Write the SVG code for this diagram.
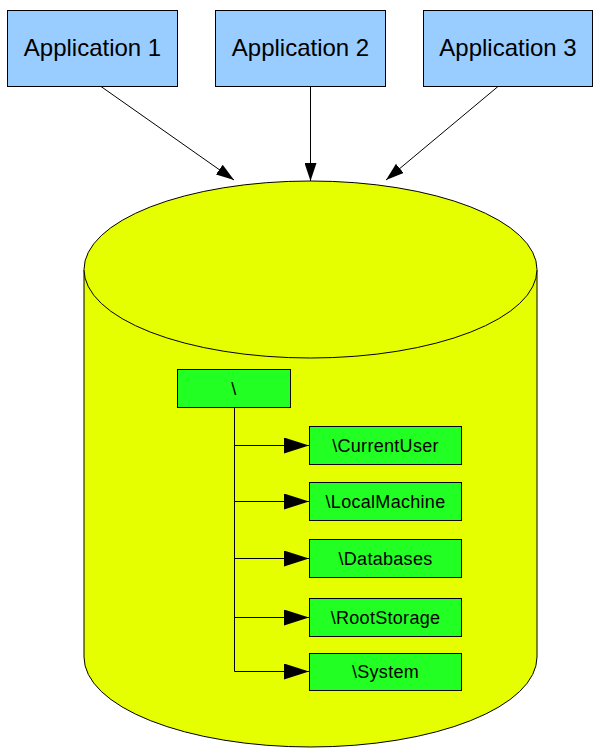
<svg xmlns="http://www.w3.org/2000/svg" width="606" height="755" viewBox="0 0 606 755">
<style>
.app{fill:#99ccff;stroke:#000;stroke-width:1}
.apptxt{font-family:"Liberation Sans",Arial,sans-serif;font-size:24px;fill:#000;text-anchor:middle}
.key{fill:#22ff22;stroke:#000;stroke-width:1}
.keytxt{font-family:"Liberation Sans",Arial,sans-serif;font-size:18px;letter-spacing:0.3px;fill:#000;text-anchor:middle}
.cyl{fill:#e6ff00;stroke:#000;stroke-width:1}
.ln{stroke:#000;stroke-width:1;fill:none}
</style>
<defs>
<marker id="ah" viewBox="0 0 18 12" refX="18" refY="6" markerWidth="18" markerHeight="12" markerUnits="userSpaceOnUse" orient="auto">
<path d="M0,0 L18,6 L0,12 Z" fill="#000"/>
</marker>
<marker id="ah2" viewBox="0 0 25 16" refX="25" refY="8" markerWidth="25" markerHeight="16" markerUnits="userSpaceOnUse" orient="auto">
<path d="M0,0 L25,8 L0,16 Z" fill="#000"/>
</marker>
</defs>
<rect width="606" height="755" fill="#fff"/>
<g id="store">
<path class="cyl" d="M84,270 L84,657 A226.5,90 0 0 0 537,657 L537,270"/>
<ellipse class="cyl" cx="310.5" cy="269.5" rx="226.5" ry="88.5"/>
</g>
<g id="app1"><rect class="app" x="7.5" y="10.5" width="170" height="76"/><text class="apptxt" x="92.5" y="56">Application 1</text></g>
<g id="app2"><rect class="app" x="215.5" y="10.5" width="170" height="76"/><text class="apptxt" x="300.5" y="56">Application 2</text></g>
<g id="app3"><rect class="app" x="423.5" y="10.5" width="169" height="76"/><text class="apptxt" x="508" y="56">Application 3</text></g>
<g id="connectors">
<line class="ln" x1="101" y1="86.5" x2="234" y2="180" marker-end="url(#ah)"/>
<line class="ln" x1="310.5" y1="86.5" x2="310.5" y2="181" marker-end="url(#ah)"/>
<line class="ln" x1="498" y1="86.5" x2="386" y2="180" marker-end="url(#ah)"/>
<path class="ln" d="M234.5,407.5 L234.5,671.5"/>
<line class="ln" x1="234.5" y1="445.5" x2="309" y2="445.5" marker-end="url(#ah2)"/>
<line class="ln" x1="234.5" y1="501.5" x2="309" y2="501.5" marker-end="url(#ah2)"/>
<line class="ln" x1="234.5" y1="558.5" x2="309" y2="558.5" marker-end="url(#ah2)"/>
<line class="ln" x1="234.5" y1="617.5" x2="309" y2="617.5" marker-end="url(#ah2)"/>
<line class="ln" x1="234.5" y1="671.5" x2="309" y2="671.5" marker-end="url(#ah2)"/>
</g>
<g id="root"><rect class="key" x="177.5" y="369.5" width="113" height="38"/><text class="keytxt" x="234" y="395">\</text></g>
<g id="currentuser"><rect class="key" x="309.5" y="426.5" width="152" height="38"/><text class="keytxt" x="385.5" y="451.5">\CurrentUser</text></g>
<g id="localmachine"><rect class="key" x="309.5" y="482.5" width="152" height="38"/><text class="keytxt" x="385.5" y="507.5">\LocalMachine</text></g>
<g id="databases"><rect class="key" x="309.5" y="539.5" width="152" height="38"/><text class="keytxt" x="385.5" y="564.5">\Databases</text></g>
<g id="rootstorage"><rect class="key" x="309.5" y="598.5" width="152" height="38"/><text class="keytxt" x="385.5" y="623.5">\RootStorage</text></g>
<g id="system"><rect class="key" x="309.5" y="653.5" width="152" height="37"/><text class="keytxt" x="385.5" y="678">\System</text></g>
</svg>
